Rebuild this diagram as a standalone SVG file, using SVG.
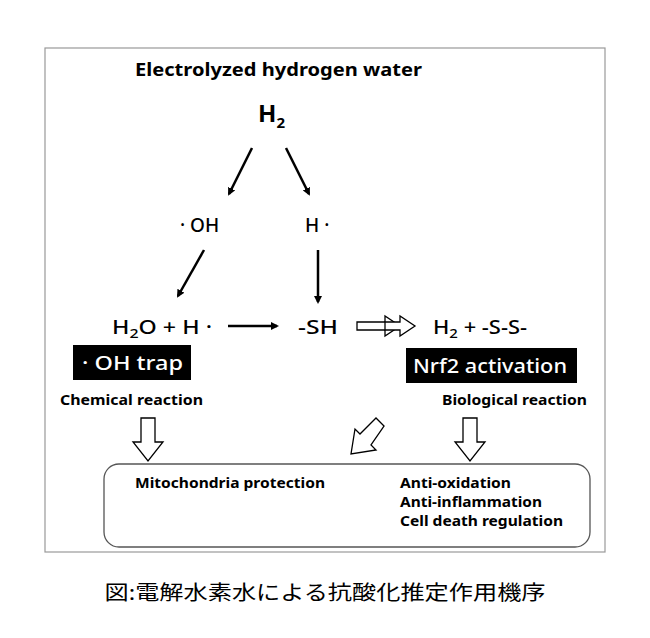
<svg xmlns="http://www.w3.org/2000/svg" width="650" height="638" viewBox="0 0 650 638">
<style>
text{font-family:"Noto Sans","Noto Sans CJK JP",sans-serif;fill:#000}
.b{font-weight:bold}
.m{font-size:19px;font-weight:500}
.s{font-size:14px;font-weight:bold}
.w{fill:#fff;font-size:20px;font-weight:500}
.ln{stroke:#000;stroke-width:2.5;fill:none}
.ho{fill:#fff;stroke:#000;stroke-width:1.3}
</style>
<defs><marker id="a" markerWidth="8" markerHeight="8" refX="6" refY="4" orient="auto" markerUnits="userSpaceOnUse" viewBox="0 0 8 8"><path d="M0,0L8,4L0,8z" fill="#000"/></marker></defs>
<rect width="650" height="638" fill="#fff"/>
<rect x="45" y="48" width="560" height="504" fill="none" stroke="#999" stroke-width="1.2"/>
<text x="135" y="76" class="b" font-size="17" textLength="287" lengthAdjust="spacingAndGlyphs">Electrolyzed hydrogen water</text>
<g id="h2"><text x="258" y="122" font-size="24" class="b">H<tspan font-size="15" dy="6">2</tspan></text></g>
<g id="oh"><text x="180" y="232" class="m">· OH</text></g>
<g id="h"><text x="305" y="232" class="m">H ·</text></g>
<g id="h2o"><text x="112" y="334" class="m" textLength="100" lengthAdjust="spacingAndGlyphs">H<tspan font-size="13" dy="4">2</tspan><tspan dy="-4">O + H ·</tspan></text></g>
<g id="sh"><text x="298" y="334" class="m" textLength="40" lengthAdjust="spacingAndGlyphs">-SH</text></g>
<g id="ss"><text x="433" y="334" class="m" textLength="94" lengthAdjust="spacingAndGlyphs">H<tspan font-size="13" dy="4">2</tspan><tspan dy="-4"> + -S-S-</tspan></text></g>
<g id="trap"><rect x="73" y="345" width="118" height="35" fill="#000"/><text x="82" y="370" class="w" textLength="101" lengthAdjust="spacingAndGlyphs">· OH trap</text></g>
<g id="nrf2"><rect x="406" y="348" width="171" height="35" fill="#000"/><text x="413" y="373" class="w" textLength="154" lengthAdjust="spacingAndGlyphs">Nrf2 activation</text></g>
<text x="60" y="405" class="s" textLength="143" lengthAdjust="spacingAndGlyphs">Chemical reaction</text>
<text x="442" y="405" class="s" textLength="145" lengthAdjust="spacingAndGlyphs">Biological reaction</text>
<g id="result"><rect x="104" y="464" width="486" height="83" rx="15" fill="none" stroke="#555" stroke-width="1.3"/>
<text x="135" y="488" class="s" textLength="190" lengthAdjust="spacingAndGlyphs">Mitochondria protection</text>
<text x="400" y="488" class="s" textLength="111" lengthAdjust="spacingAndGlyphs">Anti-oxidation</text>
<text x="400" y="507" class="s" textLength="142" lengthAdjust="spacingAndGlyphs">Anti-inflammation</text>
<text x="400" y="526" class="s" textLength="163" lengthAdjust="spacingAndGlyphs">Cell death regulation</text></g>
<g id="connectors">
<line x1="252" y1="148" x2="229" y2="194" class="ln" marker-end="url(#a)"/>
<line x1="286" y1="148" x2="309" y2="194" class="ln" marker-end="url(#a)"/>
<line x1="204" y1="250" x2="178" y2="296" class="ln" marker-end="url(#a)"/>
<line x1="318" y1="250" x2="318" y2="302" class="ln" marker-end="url(#a)"/>
<line x1="228" y1="326" x2="277" y2="326" class="ln" marker-end="url(#a)"/>
<path class="ho" d="M357,322H385V316L400,326L385,336V330H357Z"/>
<path class="ho" d="M385,322H400V316L415,326L400,336V330H385Z"/>
<path class="ho" d="M141,418H155V442H163L148,461L133,442H141Z"/>
<path class="ho" d="M463,418H477V442H485L470,461L455,442H463Z"/>
<path class="ho" d="M384,426L376,418L360,434L355,429L351,454L376,450L371,445Z"/>
</g>
<text x="325" y="600" font-size="20" text-anchor="middle" textLength="441" lengthAdjust="spacingAndGlyphs">図:電解水素水による抗酸化推定作用機序</text>
</svg>
